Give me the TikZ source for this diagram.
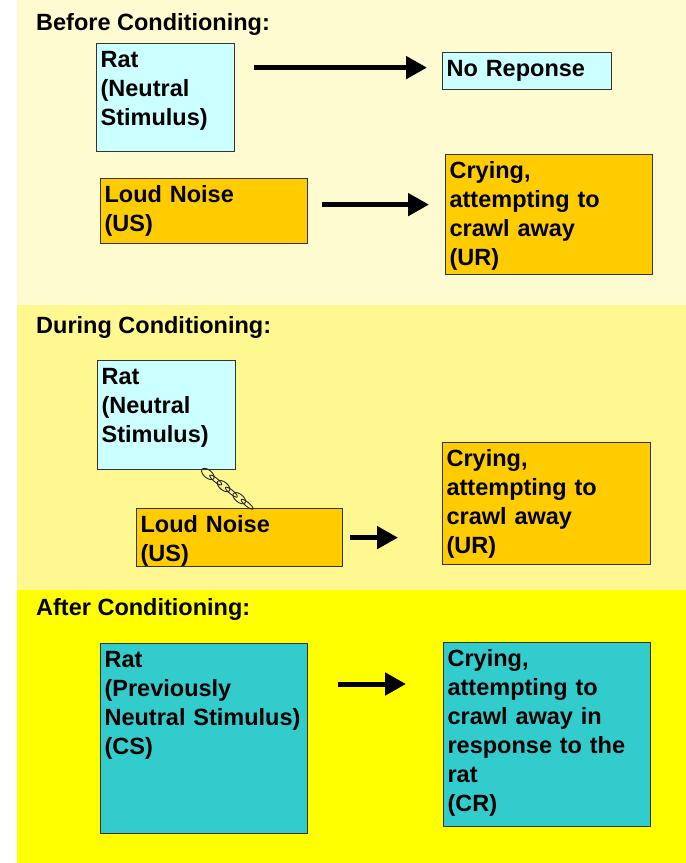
\documentclass[tikz,border=0pt]{standalone}
\usepackage{fontspec}
\setmainfont{Liberation Sans}
\usepackage{tikz}
\usetikzlibrary{arrows.meta,calc}

\definecolor{paleback}{RGB}{255,251,208}
\definecolor{midback}{RGB}{255,248,145}
\definecolor{brightback}{RGB}{255,255,0}
\definecolor{ratcyan}{RGB}{204,255,255}
\definecolor{noiseorange}{RGB}{255,204,0}
\definecolor{condteal}{RGB}{51,204,204}

\begin{document}
\begin{tikzpicture}
                [
                x=1pt, y=-1pt,
                every node/.style={font=\fontsize{23.5}{29}\selectfont\bfseries},
                box/.style={draw=black!80,line width=1.2pt,anchor=north west,align=left,inner xsep=4pt,inner ysep=7pt,text height=17pt},
                cyanbox/.style={box,fill=ratcyan},
                orangebox/.style={box,fill=noiseorange},
                tealbox/.style={box,fill=condteal},
                title/.style={anchor=base west,inner sep=0pt},
                edge/.style={->,> = {Triangle[length=21pt,width=22pt]},line width=5pt},
                link/.style={draw=black!85,line width=0.9pt}
                ]
            \useasboundingbox (0,0) rectangle (686,863);
            % three stages
            \fill[white] (0,0) rectangle (686,863);
            \fill[paleback] (17,0) rectangle (686,305);
            \fill[midback] (17,305) rectangle (686,590);
            \fill[brightback] (17,590) rectangle (686,863);

            \node[title] (t1) at (36,30) {Before Conditioning:};
            \node[cyanbox, text width=130pt, text depth=77pt] (r1) at (96,43) {Rat\\(Neutral\\Stimulus)};
            \node[cyanbox, text width=161pt, text depth=6pt] (n1) at (442,52) {No Reponse};
            \node[orangebox, text width=199pt, text depth=34pt] (l1) at (100,178) {Loud Noise\\(US)};
            \node[orangebox, text width=199pt, text depth=89pt] (c1) at (445,154) {Crying,\\attempting to\\crawl away\\(UR)};
            \draw[edge, shorten <=19pt, shorten >=15pt] ($(r1.east |- n1.west)+(0,-3.5)$) -- ($(n1.west)+(0,-3.5)$);
            \draw[edge, shorten <=14pt, shorten >=16pt] ($(l1.east)+(0,-6.5)$) -- ($(l1.east -| c1.west)+(0,-6.5)$);

            \node[title] (t2) at (36,333) {During Conditioning:};
            \node[cyanbox, text width=130pt, text depth=78pt] (r2) at (97,360) {Rat\\(Neutral\\Stimulus)};
            \node[orangebox, text width=198pt, text depth=27pt] (l2) at (136,508) {Loud Noise\\(US)};
            \node[orangebox, text width=200pt, text depth=91pt] (c2) at (442,442) {Crying,\\attempting to\\crawl away\\(UR)};
            \draw[edge, shorten <=7pt, shorten >=44pt] (l2.east) -- (l2.east -| c2.west);
            % chain between rat and noise
            \coordinate (k1) at ($(r2.south west)+(106,0)$);
            \coordinate (k2) at ($(l2.north west)+(116,0)$);
            \foreach \t/\r in {0.1/4,0.26/2,0.42/4,0.58/2,0.74/4,0.9/2}
                \draw[link, shift={($(k1)!\t!(k2)$)}, rotate=-39] (0,0) ellipse (7.5 and \r);

            \node[title] (t3) at (36,615) {After Conditioning:};
            \node[tealbox, text width=199pt, text depth=159pt] (r3) at (100,643) {Rat\\(Previously\\Neutral Stimulus)\\(CS)};
            \node[tealbox, text width=199pt, text depth=153pt] (c3) at (443,642) {Crying,\\attempting to\\crawl away in\\response to the\\rat\\(CR)};
            \draw[edge, shorten <=30pt, shorten >=37pt] ($(r3.north east)+(0,41)$) -- ($(r3.north east -| c3.west)+(0,41)$);
            \end{tikzpicture}
\end{document}
